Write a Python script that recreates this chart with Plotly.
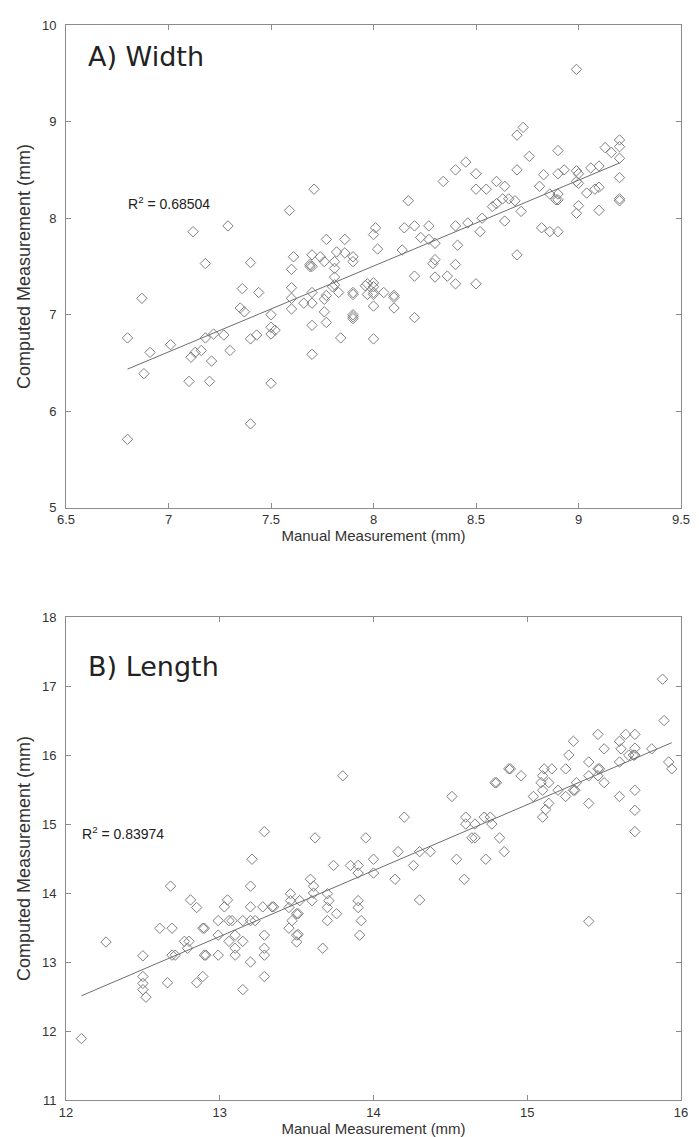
import plotly.graph_objects as go

# ---------------- Panel A: Width ----------------
width_manual = [6.80, 6.87, 6.91, 6.88, 7.01, 6.80, 7.18, 7.40, 7.36, 7.44, 7.35, 7.37, 7.50, 7.50, 7.50, 7.52,
                7.18, 7.22, 7.27, 7.11, 7.13, 7.16, 7.21, 7.30, 7.40, 7.43, 7.10, 7.20, 7.50, 7.40, 7.12, 7.29,
                7.59, 7.71, 8.17, 8.34, 8.40, 8.45, 8.50, 8.50, 8.15, 8.20, 8.27, 8.40, 8.46, 8.01, 8.00, 7.77,
                7.86, 8.02, 8.23, 8.27, 8.30, 8.14, 8.41, 7.61, 7.70, 7.74, 7.82, 7.86, 7.76, 7.81, 7.90, 7.90,
                7.69, 8.30, 8.29, 8.40, 7.60, 7.70, 7.69, 7.81, 7.81, 7.81, 7.80, 7.60, 7.70, 7.60, 7.60, 7.66,
                7.70, 7.76, 7.77, 7.76, 7.77, 7.70, 7.70, 7.84, 7.83, 7.90, 7.90, 7.90, 7.90, 7.90, 7.96, 7.97,
                8.00, 8.00, 7.97, 8.00, 8.00, 8.05, 8.10, 8.10, 8.00, 8.10, 8.00, 8.20, 8.20, 8.30, 8.36, 8.40,
                8.50, 8.99, 8.70, 8.73, 8.76, 8.90, 8.70, 8.83, 8.90, 8.93, 8.99, 9.00, 9.06, 9.10, 9.13, 9.16,
                9.20, 9.20, 9.20, 9.20, 9.20, 9.20, 8.55, 8.60, 8.64, 8.58, 8.60, 8.63, 8.66, 8.69, 8.72, 8.64,
                8.53, 8.52, 8.70, 8.81, 8.86, 8.89, 8.90, 8.90, 8.82, 8.86, 8.90, 8.99, 9.00, 9.00, 8.99, 9.04,
                9.08, 9.10, 9.10]
width_computed = [6.76, 7.17, 6.61, 6.39, 6.69, 5.71, 7.53, 7.54, 7.27, 7.23, 7.07, 7.03, 7.00, 6.87, 6.80, 6.84,
                  6.76, 6.80, 6.79, 6.56, 6.61, 6.63, 6.52, 6.63, 6.75, 6.79, 6.31, 6.31, 6.29, 5.87, 7.86, 7.92,
                  8.08, 8.30, 8.18, 8.38, 8.50, 8.58, 8.46, 8.30, 7.90, 7.92, 7.92, 7.92, 7.95, 7.90, 7.83, 7.78,
                  7.78, 7.68, 7.80, 7.78, 7.74, 7.67, 7.72, 7.60, 7.62, 7.60, 7.65, 7.64, 7.55, 7.55, 7.60, 7.55,
                  7.52, 7.57, 7.53, 7.52, 7.47, 7.50, 7.50, 7.48, 7.39, 7.31, 7.29, 7.28, 7.23, 7.17, 7.06, 7.12,
                  7.12, 7.16, 7.20, 7.03, 6.92, 6.89, 6.59, 6.76, 7.23, 7.23, 7.21, 7.00, 6.98, 6.96, 7.30, 7.32,
                  7.33, 7.29, 7.21, 7.21, 7.23, 7.23, 7.20, 7.18, 7.09, 7.07, 6.75, 7.40, 6.97, 7.39, 7.40, 7.32,
                  7.32, 9.54, 8.86, 8.94, 8.64, 8.70, 8.50, 8.45, 8.46, 8.50, 8.49, 8.46, 8.52, 8.54, 8.73, 8.68,
                  8.81, 8.74, 8.62, 8.42, 8.20, 8.18, 8.30, 8.38, 8.33, 8.12, 8.15, 8.20, 8.20, 8.18, 8.07, 7.97,
                  8.00, 7.86, 7.62, 8.33, 8.25, 8.19, 8.19, 8.25, 7.90, 7.86, 7.86, 8.38, 8.36, 8.13, 8.05, 8.26,
                  8.30, 8.32, 8.08]
width_fit_x = [6.80, 9.20]
width_fit_y = [6.437, 8.571]
width_r2 = "0.68504"

# ---------------- Panel B: Length ----------------
length_manual = [12.10, 12.26, 12.50, 12.50, 12.50, 12.50, 12.52, 12.61, 12.66, 12.69, 12.68, 12.69, 12.71, 12.77,
                 12.80, 12.79, 12.81, 12.85, 12.85, 12.89, 12.89, 12.90, 12.90, 12.91, 12.99, 12.99, 12.99, 13.05,
                 13.03, 13.06, 13.08, 13.06, 13.10, 13.10, 13.10, 13.15, 13.15, 13.15, 13.20, 13.20, 13.20, 13.23,
                 13.20, 13.21, 13.29, 13.28, 13.29, 13.29, 13.29, 13.29, 13.34, 13.35, 13.80, 14.51, 14.60, 14.60,
                 14.64, 14.20, 13.62, 13.95, 14.16, 14.30, 14.37, 14.54, 14.59, 14.30, 14.26, 14.14, 14.00, 14.00,
                 13.74, 13.85, 13.90, 13.90, 13.59, 13.61, 13.61, 13.60, 13.46, 13.46, 13.52, 13.45, 13.70, 13.71,
                 13.70, 13.76, 13.90, 13.90, 13.92, 13.91, 13.70, 13.67, 13.47, 13.45, 13.50, 13.51, 13.50, 13.51,
                 13.50, 15.88, 15.89, 15.92, 15.94, 15.70, 15.64, 15.60, 15.46, 15.30, 15.27, 15.50, 15.61, 15.70,
                 15.81, 15.60, 15.66, 15.69, 15.70, 15.40, 15.46, 15.47, 15.46, 15.40, 15.50, 15.32, 15.30, 15.31,
                 15.25, 15.25, 15.20, 15.16, 15.11, 15.10, 15.14, 15.09, 15.10, 15.04, 15.14, 15.12, 15.10, 15.40,
                 15.60, 15.70, 15.70, 15.70, 14.96, 14.88, 14.89, 14.79, 14.80, 14.66, 14.72, 14.76, 14.77, 14.66,
                 14.82, 14.73, 14.85, 15.40]
length_computed = [11.89, 13.29, 13.09, 12.79, 12.69, 12.60, 12.49, 13.49, 12.70, 13.49, 14.10, 13.10, 13.10, 13.30,
                   13.30, 13.20, 13.90, 13.79, 12.70, 12.79, 13.49, 13.49, 13.10, 13.10, 13.60, 13.39, 13.10, 13.90,
                   13.80, 13.60, 13.60, 13.30, 13.39, 13.20, 13.10, 13.60, 13.30, 12.60, 14.10, 13.80, 13.60, 13.60,
                   13.00, 14.49, 14.89, 13.80, 13.39, 13.20, 13.10, 12.79, 13.80, 13.80, 15.70, 15.40, 15.10, 15.00,
                   14.80, 15.10, 14.80, 14.80, 14.60, 14.60, 14.60, 14.49, 14.20, 13.90, 14.40, 14.20, 14.49, 14.29,
                   14.40, 14.40, 14.40, 14.29, 14.20, 14.10, 14.00, 13.89, 13.99, 13.89, 13.89, 13.79, 13.99, 13.89,
                   13.79, 13.70, 13.89, 13.79, 13.60, 13.39, 13.60, 13.20, 13.60, 13.49, 13.70, 13.70, 13.39, 13.40,
                   13.29, 17.10, 16.50, 15.90, 15.80, 16.30, 16.30, 16.20, 16.30, 16.20, 16.00, 16.09, 16.09, 16.10,
                   16.09, 15.90, 16.00, 16.00, 16.00, 15.90, 15.80, 15.80, 15.70, 15.70, 15.60, 15.60, 15.49, 15.49,
                   15.80, 15.40, 15.49, 15.80, 15.80, 15.70, 15.60, 15.60, 15.49, 15.40, 15.30, 15.21, 15.10, 15.30,
                   15.40, 15.49, 15.20, 14.89, 15.70, 15.80, 15.80, 15.60, 15.60, 15.00, 15.10, 15.10, 15.00, 14.80,
                   14.80, 14.49, 14.60, 13.59]
length_fit_x = [12.10, 15.94]
length_fit_y = [12.51, 16.18]
length_r2 = "0.83974"

x_ticks_a = [6.5, 7, 7.5, 8, 8.5, 9, 9.5]
y_ticks_a = [5, 6, 7, 8, 9, 10]
x_ticks_b = [12, 13, 14, 15, 16]
y_ticks_b = [11, 12, 13, 14, 15, 16, 17, 18]

MARK = "#7f7f7f"
AXC = "#8c8c8c"
TXT = "#333333"
FONT = "Liberation Sans, Arial, sans-serif"

fig = go.Figure()

fig.add_trace(go.Scatter(x=width_manual, y=width_computed, mode="markers",
                         marker=dict(symbol="diamond-open", size=8, color=MARK, line=dict(width=1, color=MARK)),
                         xaxis="x", yaxis="y", showlegend=False))
fig.add_trace(go.Scatter(x=width_fit_x, y=width_fit_y, mode="lines",
                         line=dict(color="#6e6e6e", width=1), xaxis="x", yaxis="y", showlegend=False))
fig.add_trace(go.Scatter(x=length_manual, y=length_computed, mode="markers",
                         marker=dict(symbol="diamond-open", size=8, color=MARK, line=dict(width=1, color=MARK)),
                         xaxis="x2", yaxis="y2", showlegend=False))
fig.add_trace(go.Scatter(x=length_fit_x, y=length_fit_y, mode="lines",
                         line=dict(color="#6e6e6e", width=1), xaxis="x2", yaxis="y2", showlegend=False))

axis_common = dict(showline=True, linecolor=AXC, linewidth=1, mirror="ticks", ticks="inside",
                   ticklen=5, tickcolor=AXC, showgrid=False, zeroline=False,
                   tickfont=dict(family=FONT, size=13, color=TXT))
xtitle_font = dict(family=FONT, size=15, color=TXT)
ytitle_font = dict(family=FONT, size=18, color=TXT)

fig.update_layout(
    width=699, height=1137,
    margin=dict(l=58, r=26, t=10, b=45),
    paper_bgcolor="white", plot_bgcolor="white",
    font=dict(family=FONT, color=TXT),
    xaxis=dict(domain=[0, 1], anchor="y", range=[6.5, 9.5], tickvals=x_ticks_a,
               ticktext=[f"{v:g}" for v in x_ticks_a],
               title=dict(text="Manual Measurement (mm)", font=xtitle_font, standoff=3),
               **axis_common),
    yaxis=dict(domain=[0.5508, 1], anchor="x", range=[5, 10], tickvals=y_ticks_a,
               ticklabelstandoff=6,
               title=dict(text="Computed Measurement (mm)", font=ytitle_font, standoff=6),
               **axis_common),
    xaxis2=dict(domain=[0, 1], anchor="y2", range=[12, 16], tickvals=x_ticks_b,
                title=dict(text="Manual Measurement (mm)", font=xtitle_font, standoff=3),
                **axis_common),
    yaxis2=dict(domain=[0, 0.4492], anchor="x2", range=[11, 18], tickvals=y_ticks_b,
                ticklabelstandoff=6,
                title=dict(text="Computed Measurement (mm)", font=ytitle_font, standoff=6),
                **axis_common),
)

fig.add_annotation(text="A) Width", xref="x domain", yref="y domain", x=0.033, y=0.934,
                   xanchor="left", yanchor="middle", showarrow=False,
                   font=dict(family="DejaVu Sans", size=27, color="#222222"))
fig.add_annotation(text="B) Length", xref="x2 domain", yref="y2 domain", x=0.033, y=0.897,
                   xanchor="left", yanchor="middle", showarrow=False,
                   font=dict(family="DejaVu Sans", size=27, color="#222222"))
fig.add_annotation(text=f"R<sup>2</sup> = {width_r2}", xref="x", yref="y", x=6.795, y=8.16,
                   xanchor="left", yanchor="middle", showarrow=False,
                   font=dict(family=FONT, size=14, color="#222222"))
fig.add_annotation(text=f"R<sup>2</sup> = {length_r2}", xref="x2", yref="y2", x=12.094, y=14.87,
                   xanchor="left", yanchor="middle", showarrow=False,
                   font=dict(family=FONT, size=14, color="#222222"))

fig.write_html("out.html")
